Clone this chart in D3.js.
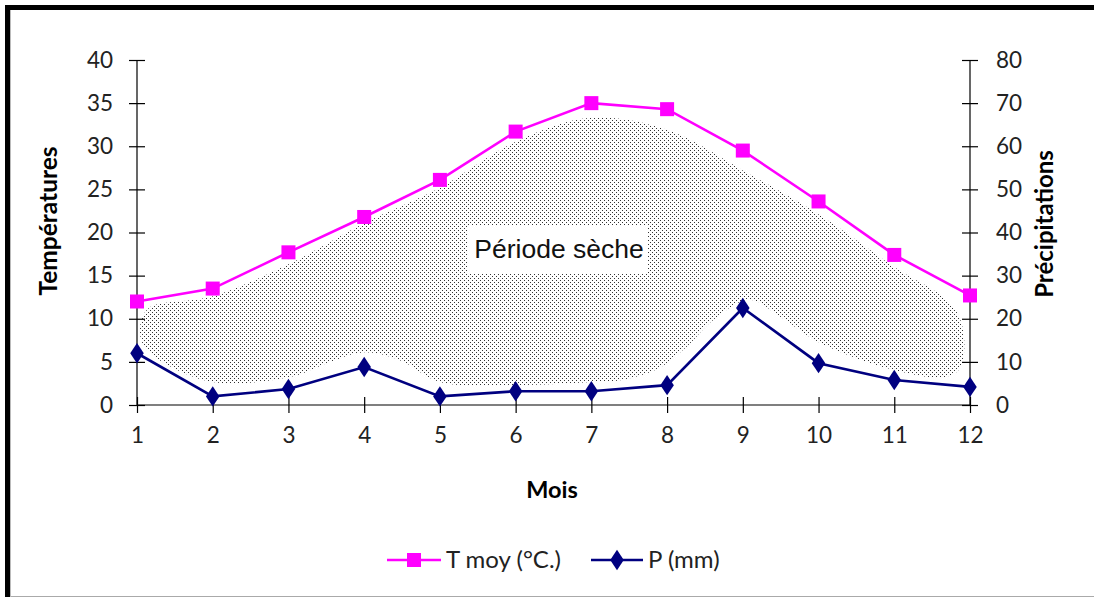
<!DOCTYPE html>
<html><head><meta charset="utf-8">
<script src="https://cdn.jsdelivr.net/npm/d3@7"></script>
<style>html,body{margin:0;padding:0;background:#fff;}svg{display:block;}</style>
</head><body>
<script>
const months = [1,2,3,4,5,6,7,8,9,10,11,12];
const tempMoy = [12, 13.5, 17.7, 21.8, 26.1, 31.7, 35, 34.3, 29.5, 23.6, 17.4, 12.7];
const precip = [12, 2, 3.7, 8.8, 2, 3.2, 3.2, 4.6, 22.5, 9.7, 5.8, 4.2];
const leftTicks = [0,5,10,15,20,25,30,35,40];
const rightTicks = [0,10,20,30,40,50,60,70,80];
// outline of the dry period (month, temperature units)
const dryOutline = [
 [1.04,9.0],[1.15,11.2],[2.0,12.6],[3.02,16.4],[3.98,21.0],[5.0,25.2],[6.02,30.6],[7.0,33.3],
 [8.0,31.9],[9.0,27.2],[10.02,22.0],[11.0,16.0],[11.74,11.8],[11.91,8.7],[11.87,4.3],[11.67,3.25],
 [11.0,4.06],[10.02,7.2],[9.5,10.2],[9.09,12.2],[8.63,10.0],[8.24,6.6],[7.9,4.3],[7.4,2.9],[7.0,2.67],[6.0,2.3],
 [5.0,2.67],[4.47,5.2],[3.98,6.1],[3.55,5.0],[3.02,3.25],[2.0,2.67],[1.3,5.2],[1.08,7.0]
];
const labels = {yLeft:"Températures", yRight:"Précipitations", x:"Mois", dry:"Période sèche", sT:"T moy (°C.)", sP:"P (mm)"};

const W=1094,H=599;
const svg=d3.select("body").append("svg").attr("width",W).attr("height",H);
const defs=svg.append("defs");
const pat=defs.append("pattern").attr("id","dots").attr("patternUnits","userSpaceOnUse").attr("width",4).attr("height",4);
pat.append("rect").attr("x",0).attr("y",0).attr("width",1).attr("height",1).attr("fill","#333");
pat.append("rect").attr("x",2).attr("y",2).attr("width",1).attr("height",1).attr("fill","#333");

svg.append("rect").attr("width",W).attr("height",H).attr("fill","#fff");
// frame
svg.append("line").attr("x1",11).attr("x2",W).attr("y1",596.5).attr("y2",596.5).attr("stroke","#aaa").attr("stroke-width",1);
svg.append("line").attr("x1",10.5).attr("x2",10.5).attr("y1",10).attr("y2",597).attr("stroke","#bbb").attr("stroke-width",1);
svg.append("rect").attr("x",5).attr("y",5).attr("width",W-5).attr("height",5).attr("fill","#000");
svg.append("rect").attr("x",5).attr("y",5).attr("width",5).attr("height",592).attr("fill","#000");

const x=d3.scaleLinear().domain([1,12]).range([137,970]);
const yL=d3.scaleLinear().domain([0,40]).range([405,60]);
const yR=d3.scaleLinear().domain([0,80]).range([405,60]);

const font="Lato, 'Open Sans', sans-serif";

// dry period blob
svg.append("path").datum(dryOutline)
 .attr("d",d3.line().x(d=>x(d[0])).y(d=>yL(d[1])).curve(d3.curveCatmullRomClosed.alpha(0.5)))
 .attr("fill","url(#dots)").attr("stroke","none");

// axes
const axL=svg.append("g").attr("transform","translate(137,0)")
 .call(d3.axisLeft(yL).tickValues(leftTicks).tickSize(8).tickPadding(16));
const axR=svg.append("g").attr("transform","translate(970,0)")
 .call(d3.axisRight(yR).tickValues(rightTicks).tickSize(8).tickPadding(18));
const axX=svg.append("g").attr("transform","translate(0,405)")
 .call(d3.axisBottom(x).tickValues(months).tickSize(8).tickPadding(14).tickFormat(d3.format("d")));
[axL,axR,axX].forEach(g=>{
 g.select(".domain").attr("stroke","#000").attr("stroke-width",1.2);
 g.selectAll(".tick line").attr("stroke","#000").attr("stroke-width",1.2);
 g.selectAll(".tick text").attr("font-family",font).attr("font-size",22.5).attr("fill","#222");
});
axL.selectAll(".tick line").attr("x1",8).attr("x2",-8);
axR.selectAll(".tick line").attr("x1",-8).attr("x2",8);
axX.selectAll(".tick line").attr("y1",-8).attr("y2",8);
axL.select(".domain").attr("d","M0,60V405");
axR.select(".domain").attr("d","M0,60V405");
axX.select(".domain").attr("d","M137,0H970");

// label box
svg.append("rect").attr("x",468).attr("y",225).attr("width",180).attr("height",48).attr("fill","#fff");
svg.append("text").attr("x",559).attr("y",258).attr("text-anchor","middle")
 .attr("font-family","'Liberation Sans', Arial, sans-serif").attr("font-size",26.5).attr("fill","#111").text(labels.dry);

// series
svg.append("path").datum(tempMoy)
 .attr("d",d3.line().x((d,i)=>x(months[i])).y(d=>yL(d)))
 .attr("fill","none").attr("stroke","#ff00ff").attr("stroke-width",2.6);
svg.append("g").selectAll("rect").data(tempMoy).join("rect")
 .attr("x",(d,i)=>x(months[i])-7).attr("y",d=>yL(d)-7).attr("width",14).attr("height",14).attr("fill","#ff00ff");
svg.append("path").datum(precip)
 .attr("d",d3.line().x((d,i)=>x(months[i])).y(d=>yR(d)))
 .attr("fill","none").attr("stroke","#000080").attr("stroke-width",2.6);
const dia=d3.symbol().type(d3.symbolDiamond).size(120);
svg.append("g").selectAll("path").data(precip).join("path")
 .attr("transform",(d,i)=>`translate(${x(months[i])},${yR(d)}) scale(1.15,1)`).attr("d",dia).attr("fill","#000080");

// axis titles
svg.append("text").attr("transform","translate(57,221) rotate(-90)").attr("text-anchor","middle")
 .attr("font-family",font).attr("font-weight","bold").attr("font-size",24.5).attr("fill","#000").text(labels.yLeft);
svg.append("text").attr("transform","translate(1053,224) rotate(-90)").attr("text-anchor","middle")
 .attr("font-family",font).attr("font-weight","bold").attr("font-size",24).attr("fill","#000").text(labels.yRight);
svg.append("text").attr("x",552).attr("y",498).attr("text-anchor","middle")
 .attr("font-family",font).attr("font-weight","bold").attr("font-size",23.5).attr("fill","#000").text(labels.x);

// legend
const lg=svg.append("g");
lg.append("line").attr("x1",387).attr("x2",441).attr("y1",560).attr("y2",560).attr("stroke","#ff00ff").attr("stroke-width",2.6);
lg.append("rect").attr("x",407).attr("y",553).attr("width",14).attr("height",14).attr("fill","#ff00ff");
lg.append("text").attr("x",446).attr("y",568).attr("font-family",font).attr("font-size",24).attr("fill","#222").text(labels.sT);
lg.append("line").attr("x1",591).attr("x2",643).attr("y1",560).attr("y2",560).attr("stroke","#000080").attr("stroke-width",2.6);
lg.append("path").attr("transform","translate(617,560) scale(1.15,1)").attr("d",dia).attr("fill","#000080");
lg.append("text").attr("x",648).attr("y",568).attr("font-family",font).attr("font-size",24).attr("fill","#222").text(labels.sP);
</script>
</body></html>
